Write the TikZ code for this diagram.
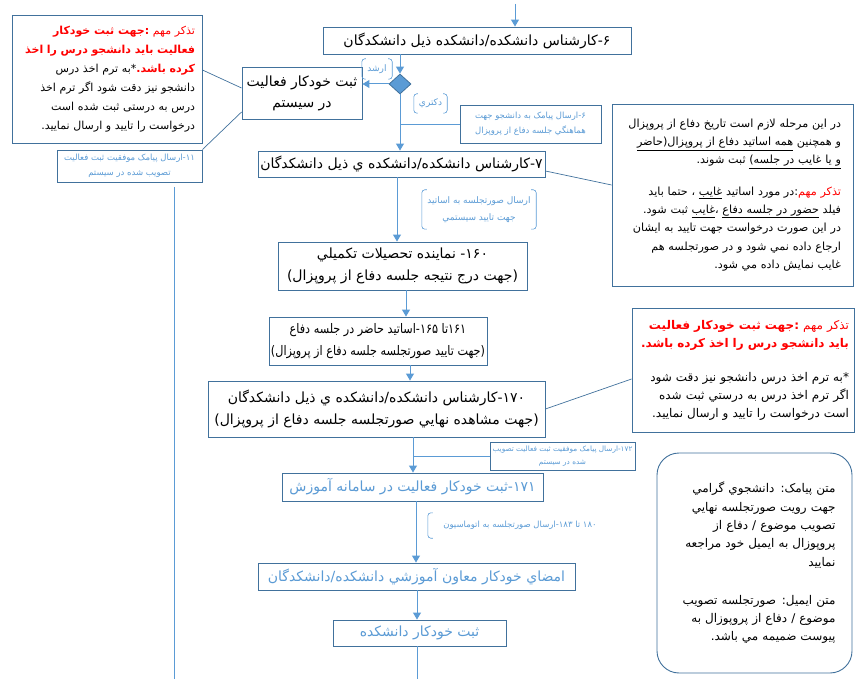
\documentclass[tikz,border=0pt]{standalone}
\usepackage{fontspec}
\usepackage{xcolor}
\usepackage{tikz}
\usetikzlibrary{arrows.meta, positioning, shapes.geometric}
\newfontfamily\farsi[Script=Arabic]{DejaVu Sans}
\newfontfamily\farsinar[Script=Arabic, FakeStretch=0.85]{DejaVu Sans}
\TeXXeTstate=1
\definecolor{boxline}{RGB}{65,113,156}
\definecolor{flow}{RGB}{91,155,213}
\definecolor{warnred}{RGB}{255,0,0}
\newcommand{\fa}[1]{\beginR #1\endR}
\newcommand{\zir}[1]{\underline{\beginR #1\endR}}

\begin{document}
\begin{tikzpicture}[
        x=1pt, y=-1pt,
        flowbox/.style={
            rectangle, draw=boxline, line width=0.9pt, fill=white,
            align=center, inner sep=2pt,
            font=\farsi\fontsize{14}{22}\selectfont
        },
        bluebox/.style={flowbox, text=flow},
        notebox/.style={
            rectangle, draw=boxline, line width=0.9pt, fill=white,
            align=right, inner sep=6pt,
            font=\farsi\fontsize{11.2}{18.3}\selectfont
        },
        smsbox/.style={
            rectangle, draw=boxline, line width=0.8pt, fill=white,
            text=flow, align=center, inner sep=2pt,
            font=\farsi\fontsize{8.5}{15}\selectfont
        },
        tag/.style={text=flow, align=center, inner sep=2pt,
            font=\farsi\fontsize{9}{17}\selectfont},
        brk/.style={draw=flow, line width=0.6pt, rounded corners=3pt},
        arr/.style={-{Triangle[length=7pt, width=8pt]}, draw=flow, line width=1pt},
        link/.style={draw=boxline, line width=0.7pt}
        ]
    \useasboundingbox (0,0) rectangle (863,679);

    % --- top: step 6 and the decision ---
        \node[flowbox, minimum width=308, minimum height=27] (k6) at (477,40.5)
            {\fa{۶\kern0pt-\kern0pt کارشناس دانشکده/دانشکده ذیل دانشکدگان}};
        \node[diamond, draw=boxline, fill=flow, line width=0.8pt, aspect=1.1,
              minimum width=22, minimum height=20, inner sep=0pt] (dec) at (400,84) {};
        \node[flowbox, font=\farsi\fontsize{14}{21}\selectfont,
              minimum width=120, minimum height=52] (auto1) at (302,93)
            {\fa{ثبت خودکار فعالیت}\\\fa{در سیستم}};

        \coordinate (top) at (515,4);
        \draw[arr] (top) -- (top |- k6.north);
        \draw[arr] (dec.north |- k6.south) -- (dec.north);
        \draw[arr] (dec.west) -- (auto1.east |- dec.west);

        \node[tag, minimum width=30, minimum height=20] (lbl1) at (377,69) {\fa{ارشد}};
        \draw[brk] ([xshift=4pt]lbl1.north west) -- (lbl1.north west) -- (lbl1.south west) -- ([xshift=4pt]lbl1.south west);
        \draw[brk] ([xshift=-4pt]lbl1.north east) -- (lbl1.north east) -- (lbl1.south east) -- ([xshift=-4pt]lbl1.south east);

        \node[tag, minimum width=33, minimum height=19] (lbl2) at (430.5,103.5) {\fa{دکتري}};
        \draw[brk] ([xshift=4pt]lbl2.north west) -- (lbl2.north west) -- (lbl2.south west) -- ([xshift=4pt]lbl2.south west);
        \draw[brk] ([xshift=-4pt]lbl2.north east) -- (lbl2.north east) -- (lbl2.south east) -- ([xshift=-4pt]lbl2.south east);

    % --- left notes ---
        \node[notebox, font=\farsi\fontsize{11}{19}\selectfont,
              text width=176, inner xsep=7pt, inner ysep=5pt, minimum height=128] (warn1) at (107,79)
            {{\color{warnred}\fa{تذکر مهم {\bfseries :جهت ثبت خودکار}}}\\
             {\color{warnred}\bfseries\fa{فعالیت باید دانشجو درس را اخذ}}\\
             \fa{*به ترم اخذ درس}{\color{warnred}\bfseries\fa{کرده باشد.}}\\
             \fa{دانشجو نیز دقت شود اگر ترم اخذ}\\
             \fa{درس به درستی ثبت شده است}\\
             \fa{درخواست را تایید و ارسال نمایید.}};
        \node[smsbox, minimum width=145, minimum height=32] (sms11) at (129.5,166)
            {\fa{۱۱\kern0pt-\kern0pt ارسال پیامک موفقیت ثبت فعالیت}\\\fa{تصویب شده در سیستم}};

        \draw[link] ([yshift=5pt]auto1.west) -- ([yshift=9pt]warn1.east);
        \draw[link] ([yshift=-19pt]auto1.west) -- (sms11.north east);
        \coordinate (side) at (174,187);
        \coordinate (bot) at (417,679);
        \draw[link, draw=flow] (side) -- (side |- bot);

    % --- step 7 ---
        \node[flowbox, minimum width=287, minimum height=26] (k7) at (401.5,164)
            {\fa{۷\kern0pt-\kern0pt کارشناس دانشکده/دانشکده ي ذيل دانشکدگان}};
        \draw[arr] (dec.south) -- (dec.south |- k7.north);

        \node[smsbox, minimum width=141, minimum height=38] (sms6) at (530.5,124)
            {\fa{۶\kern0pt-\kern0pt ارسال پیامک به دانشجو جهت}\\\fa{هماهنگي جلسه دفاع از پروپزال}};
        \draw[link, draw=flow] (sms6.west) -- (sms6.west -| dec.south);

        \node[notebox, text width=217, inner xsep=12pt, minimum height=182] (note1) at (732.5,195)
            {\fa{در این مرحله لازم است تاریخ دفاع از پروپزال}\\
             \fa{و همچنین \zir{همه اساتید دفاع از پروپزال(حاضر}}\\
             \fa{\zir{و یا غایب در جلسه)} ثبت شوند.}\\[13pt]
             \fa{:در مورد اساتید \zir{غایب} ، حتما باید}{\color{warnred}\fa{تذکر مهم}}\\
             \fa{فیلد \zir{حضور در جلسه دفاع} ،\zir{غایب} ثبت شود.}\\
             \fa{در این صورت درخواست جهت تایید به ایشان}\\
             \fa{ارجاع داده نمي شود و در صورتجلسه هم}\\
             \fa{غایب نمایش داده مي شود.}};
        \draw[link] ([yshift=-7pt]k7.east) -- ([yshift=10pt]note1.west);

    % --- steps 160 to 170 ---
        \node[flowbox, minimum width=249, minimum height=48] (k160) at (402.5,266)
            {\fa{۱۶۰\kern0pt- نماینده تحصیلات تکمیلي}\\\fa{(جهت درج نتیجه جلسه دفاع از پروپزال)}};
        \draw[arr] ([xshift=-4.5pt]k7.south) -- ([xshift=-4.5pt]k7.south |- k160.north);

        \node[tag, minimum width=114, minimum height=39] (lbl3) at (479,209.5)
            {\fa{ارسال صورتجلسه به اساتید}\\\fa{جهت تایید سیستمي}};
        \draw[brk] ([xshift=5pt]lbl3.north west) -- (lbl3.north west) -- (lbl3.south west) -- ([xshift=5pt]lbl3.south west);
        \draw[brk] ([xshift=-5pt]lbl3.north east) -- (lbl3.north east) -- (lbl3.south east) -- ([xshift=-5pt]lbl3.south east);

        \node[flowbox, font=\farsinar\fontsize{13.2}{22}\selectfont,
              minimum width=218, minimum height=48] (k161) at (378,341)
            {\fa{۱۶۱\kern0pt تا ۱۶۵\kern0pt-\kern0pt اساتید حاضر در جلسه دفاع}\\\fa{(جهت تایید صورتجلسه جلسه دفاع از پروپزال)}};
        \draw[arr] ([xshift=3.5pt]k160.south) -- ([xshift=3.5pt]k160.south |- k161.north);

        \node[flowbox, minimum width=337, minimum height=56] (k170) at (376.5,409)
            {\fa{۱۷۰\kern0pt-\kern0pt کارشناس دانشکده/دانشکده ي ذيل دانشکدگان}\\\fa{(جهت مشاهده نهايي صورتجلسه جلسه دفاع از پروپزال)}};
        \draw[arr] ([xshift=32pt]k161.south) -- ([xshift=32pt]k161.south |- k170.north);

        \node[notebox, font=\farsi\fontsize{12}{18}\selectfont,
              text width=212, inner sep=5pt, minimum height=124] (note2) at (743,370)
            {{\color{warnred}\fa{تذکر مهم {\bfseries :جهت ثبت خودکار فعالیت}}}\\
             {\color{warnred}\bfseries\fa{باید دانشجو درس را اخذ کرده باشد.}}\\[16pt]
             \fa{*به ترم اخذ درس دانشجو نیز دقت شود}\\
             \fa{اگر ترم اخذ درس به درستي ثبت شده}\\
             \fa{است درخواست را تایید و ارسال نمایید.}};
        \draw[link] (k170.east) -- ([yshift=-9pt]note2.west);

    % --- automatic steps ---
        \node[bluebox, minimum width=261, minimum height=28] (k171) at (412.5,487)
            {\fa{۱۷۱\kern0pt-\kern0pt ثبت خودکار فعالیت در سامانه آموزش}};
        \coordinate (j170) at ([xshift=36.5pt]k170.south);
        \draw[arr] (j170) -- (j170 |- k171.north);

        \node[smsbox, font=\farsi\fontsize{7.3}{13}\selectfont,
              minimum width=145, minimum height=28] (sms172) at (562.5,456)
            {\fa{۱۷۲\kern0pt-\kern0pt ارسال پیامک موفقیت ثبت فعالیت تصویب}\\\fa{شده در سیستم}};
        \draw[link, draw=flow] (sms172.west) -- (sms172.west -| j170);

        \node[bluebox, minimum width=317, minimum height=27] (sign) at (416.5,576.5)
            {\fa{امضاي خودکار معاون آموزشي دانشکده/دانشکدگان}};
        \draw[arr] ([xshift=3.5pt]k171.south) -- ([xshift=3.5pt]k171.south |- sign.north);

        \node[tag, font=\farsi\fontsize{8.5}{12}\selectfont,
              minimum width=172, minimum height=25] (lbl4) at (514,525.5)
            {\hspace*{12pt}\fa{۱۸۰ تا ۱۸۳\kern0pt-\kern0pt ارسال صورتجلسه به اتوماسیون}};
        \draw[brk] ([xshift=5pt]lbl4.north west) -- (lbl4.north west) -- (lbl4.south west) -- ([xshift=5pt]lbl4.south west);

        \node[bluebox, minimum width=173, minimum height=26] (reg2) at (419.5,633)
            {\fa{ثبت خودکار دانشکده}};
        \draw[arr] (sign.south -| bot) -- (bot |- reg2.north);
        \draw[link, draw=flow] (reg2.south -| bot) -- (bot);

    % --- message texts ---
        \node[notebox, font=\farsi\fontsize{12}{18.3}\selectfont, rounded corners=22pt,
              text width=162, inner xsep=16.5pt, minimum height=220] (msg) at (754.5,563)
            {\fa{متن پیامک: دانشجوي گرامي}\\
             \fa{جهت رويت صورتجلسه نهايي}\\
             \fa{تصويب موضوع / دفاع از}\\
             \fa{پروپوزال به ايميل خود مراجعه}\\
             \fa{نماييد}\\[20pt]
             \fa{متن ايميل: صورتجلسه تصويب}\\
             \fa{موضوع / دفاع از پروپوزال به}\\
             \fa{پيوست ضميمه مي باشد.}};

    \end{tikzpicture}
\end{document}
